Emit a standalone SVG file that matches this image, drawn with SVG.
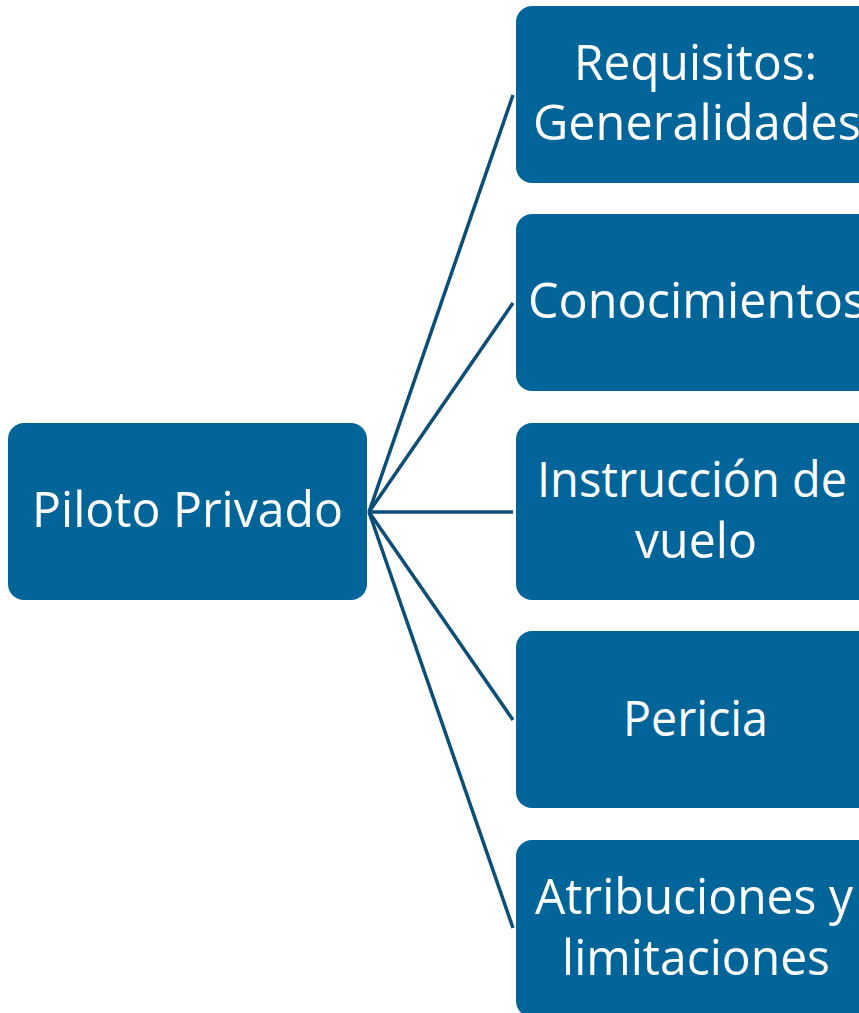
<svg xmlns="http://www.w3.org/2000/svg" width="859" height="1013" viewBox="0 0 859 1013">
<style>
.box{fill:#02659A;}
.lbl{fill:#FFFFFF;font-family:"Open Sans","Noto Sans","Liberation Sans",sans-serif;font-size:49px;text-anchor:middle;}
.conn{stroke:#0C4E78;stroke-width:3.5;fill:none;}
</style>
<rect width="859" height="1013" fill="#FFFFFF"/>
<g id="connectors">
<line class="conn" x1="369" y1="512" x2="513" y2="95"/>
<line class="conn" x1="369" y1="512" x2="513" y2="303"/>
<line class="conn" x1="369" y1="512" x2="513" y2="512"/>
<line class="conn" x1="369" y1="512" x2="513" y2="720"/>
<line class="conn" x1="369" y1="512" x2="513" y2="928"/>
</g>
<g id="piloto">
<rect class="box" x="8" y="423" width="359" height="177" rx="16"/>
<text class="lbl" x="187.5" y="527" textLength="311" lengthAdjust="spacingAndGlyphs">Piloto Privado</text>
</g>
<g id="requisitos">
<rect class="box" x="516" y="6" width="359" height="177" rx="16"/>
<text class="lbl" x="695.5" y="80" textLength="243" lengthAdjust="spacingAndGlyphs">Requisitos:</text>
<text class="lbl" x="697" y="140" textLength="328" lengthAdjust="spacingAndGlyphs">Generalidades</text>
</g>
<g id="conocimientos">
<rect class="box" x="516" y="214" width="359" height="177" rx="16"/>
<text class="lbl" x="697" y="318" textLength="338" lengthAdjust="spacingAndGlyphs">Conocimientos</text>
</g>
<g id="instruccion">
<rect class="box" x="516" y="423" width="359" height="177" rx="16"/>
<text class="lbl" x="692" y="497" textLength="310" lengthAdjust="spacingAndGlyphs">Instrucción de</text>
<text class="lbl" x="696" y="558" textLength="122" lengthAdjust="spacingAndGlyphs">vuelo</text>
</g>
<g id="pericia">
<rect class="box" x="516" y="631" width="359" height="177" rx="16"/>
<text class="lbl" x="695.5" y="736" textLength="145" lengthAdjust="spacingAndGlyphs">Pericia</text>
</g>
<g id="atribuciones">
<rect class="box" x="516" y="840" width="359" height="177" rx="16"/>
<text class="lbl" x="694" y="914" textLength="318" lengthAdjust="spacingAndGlyphs">Atribuciones y</text>
<text class="lbl" x="696" y="975" textLength="268" lengthAdjust="spacingAndGlyphs">limitaciones</text>
</g>
</svg>
